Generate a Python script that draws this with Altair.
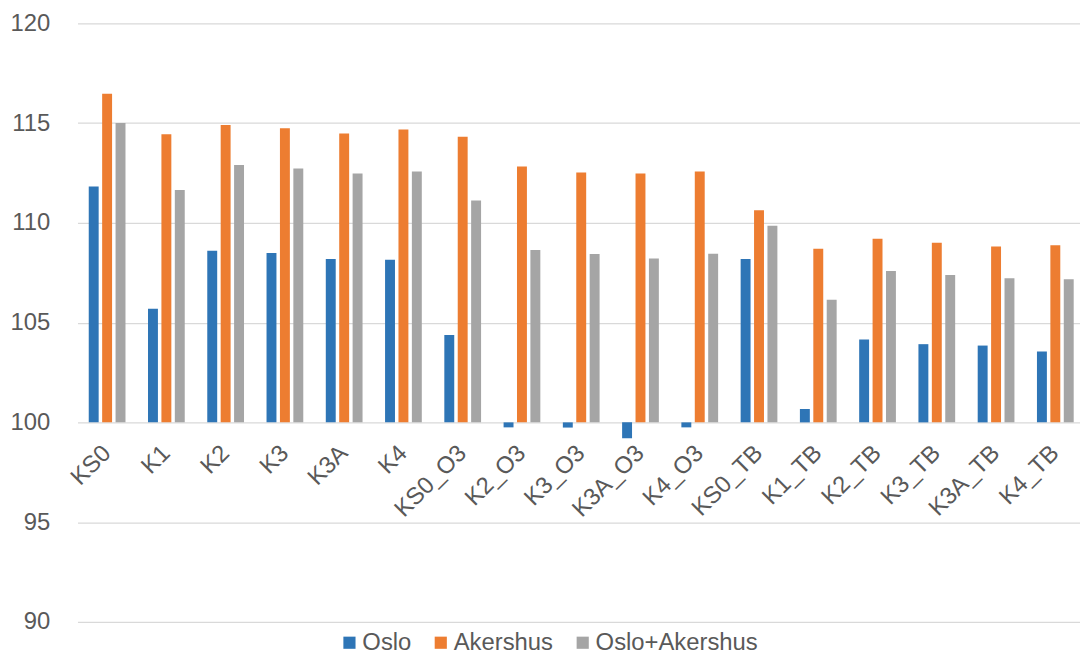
import altair as alt
import pandas as pd

categories = ["KS0", "K1", "K2", "K3", "K3A", "K4", "KS0_O3", "K2_O3", "K3_O3",
              "K3A_O3", "K4_O3", "KS0_TB", "K1_TB", "K2_TB", "K3_TB", "K3A_TB", "K4_TB"]
series = ["Oslo", "Akershus", "Oslo+Akershus"]
oslo = [111.82, 105.70, 108.60, 108.49, 108.19, 108.15, 104.38, 99.75, 99.74,
        99.20, 99.75, 108.19, 100.67, 104.15, 103.92, 103.85, 103.55]
akershus = [116.47, 114.44, 114.91, 114.74, 114.48, 114.68, 114.31, 112.82, 112.53,
            112.47, 112.57, 110.63, 108.70, 109.20, 109.00, 108.82, 108.88]
oslo_akershus = [115.00, 111.65, 112.90, 112.73, 112.48, 112.58, 111.12, 108.64, 108.44,
                 108.22, 108.45, 109.85, 106.15, 107.59, 107.39, 107.22, 107.17]
colors = ["#2E75B6", "#ED7D31", "#A5A5A5"]
y_ticks = [90, 95, 100, 105, 110, 115, 120]

rows = []
for s, vals in zip(series, [oslo, akershus, oslo_akershus]):
    for c, v in zip(categories, vals):
        rows.append({"Kategori": c, "Serie": s, "Verdi": v})
df = pd.DataFrame(rows)

FONT = "Liberation Sans"
TXT = "#595959"
H = 603
W = 1010

bars = alt.Chart(df).mark_bar().encode(
    x=alt.X("Kategori:N", sort=categories, title=None,
            scale=alt.Scale(range=[0, 1015], paddingInner=0.38, paddingOuter=0.19),
            axis=alt.Axis(offset=-H / 3, domain=False, ticks=False, labelAngle=315,
                          labelAlign="right", labelBaseline="middle", labelPadding=27,
                          labelFont=FONT, labelFontSize=24, labelColor=TXT,
                          labelOverlap=False, grid=False)),
    xOffset=alt.XOffset("Serie:N", sort=series,
                        scale=alt.Scale(paddingInner=0.26, paddingOuter=0)),
    y=alt.Y("Verdi:Q", title=None,
            scale=alt.Scale(domain=[90, 120], nice=False, zero=False),
            axis=alt.Axis(values=y_ticks, domain=False, ticks=False, labelPadding=28,
                          labelFont=FONT, labelFontSize=24, labelColor=TXT,
                          gridColor="#D9D9D9", gridWidth=1.2)),
    y2=alt.datum(100),
    color=alt.Color("Serie:N", sort=series,
                    scale=alt.Scale(domain=series, range=colors),
                    legend=alt.Legend(title=None, orient="none", direction="horizontal",
                                      legendX=262, legendY=612,
                                      symbolType="square", symbolSize=150,
                                      symbolStrokeWidth=0, labelOffset=1,
                                      columnPadding=17, labelFont=FONT,
                                      labelFontSize=24, labelColor=TXT, labelLimit=300)),
)

chart = bars.properties(
    width=W, height=H,
    autosize=alt.AutoSizeParams(type="none"),
    padding={"left": 70, "top": 13, "right": 0, "bottom": 45},
    background="white",
).configure_view(stroke=None)

chart.save("out.html", embed_options={"renderer": "svg", "actions": False})
